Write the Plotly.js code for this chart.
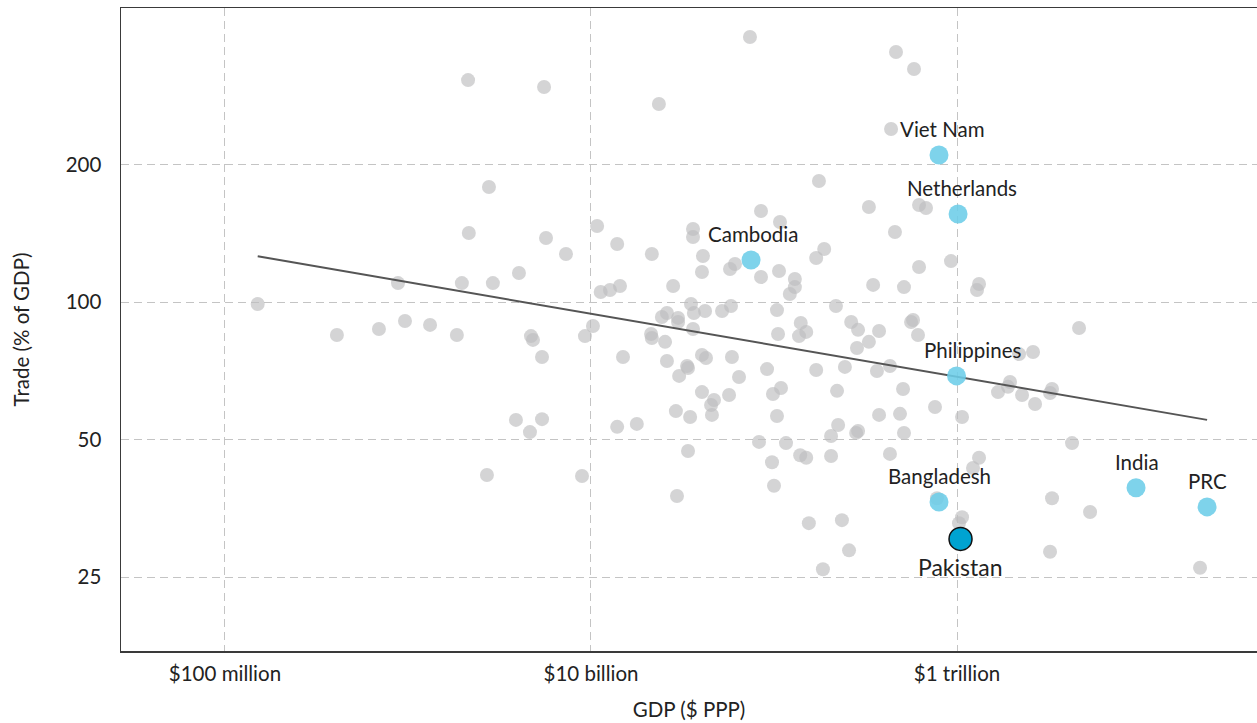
<!DOCTYPE html>
<html>
<head>
<meta charset="utf-8">
<script src="https://cdn.plot.ly/plotly-3.0.1.min.js"></script>
<style>html,body{margin:0;padding:0;background:#fff;}#chart{width:1257px;height:723px;}</style>
</head>
<body>
<div id="chart"></div>
<script>
// GDP in billions of $ (PPP), trade in % of GDP
const grayGdp = [0.151,0.409,0.694,0.963,1.32,1.85,0.882,1.97,2.91,4.04,2.15,2.77,2.13,5.54,4.70,4.82,5.40,3.89,4.64,5.40,2.70,5.68,7.30,10.8,13.9,21.5,23.5,73.9,464,582,436,176,330,620,677,84.9,107.8,36.1,36.1,40.9,61.2,57.5,106.5,40.4,84.9,458,188,170,927,620,130,130,122,348,513,11.3,12.7,14.4,28.1,218,35.2,36.5,42.0,52.0,58.2,103.8,24.4,26.0,29.9,29.9,10.25,36.1,140,264,288,561,575,612,375,1319,1286,4642,9.27,21.3,21.5,25.4,150,137,105.2,330,284,14.96,26.0,40.4,42.5,58.9,33.5,33.9,30.3,64.4,91.6,170,244,365,430,40.4,47.0,45.3,56.8,45.8,29.1,34.8,13.9,17.8,98.7,109.2,221,507,758,103.8,375,488,224,205,288,281,513,82.8,116.3,139,150,205,97.5,33.9,430,8.93,100,29.5,155,235,257,185,777,2182,2602,1675,1948,1899,2266,2669,3304,3223,1065,4250,1319,1223,3304,5332,1065,1025,3223,21270];
const grayTrade = [99.0,84.7,87.3,90.9,89.1,84.7,110.0,110.0,110.0,115.7,141.6,178.5,306,295.5,84.2,82.6,75.8,55.2,51.9,55.4,41.8,138.1,127.4,146.7,134.0,127.4,271.3,380.3,352.6,323.6,239.2,184.0,161.4,163.1,160.6,158.2,149.7,144.5,138.8,126.1,121.1,118.1,116.9,116.3,113.4,142.3,130.6,124.8,122.9,119.3,112.3,107.8,104.1,109.0,107.8,105.2,106.2,108.4,108.4,98.0,99.0,94.6,95.6,95.6,98.0,96.0,92.7,94.6,92.3,90.4,88.6,87.3,90.0,90.4,86.9,90.4,91.3,84.7,86.4,109.5,106.2,87.7,84.2,85.1,83.4,81.8,86.0,84.2,85.1,81.8,79.3,75.8,74.3,76.6,75.4,75.8,72.4,71.7,68.9,68.5,71.3,71.0,72.1,70.6,72.4,63.5,61.0,59.5,62.6,56.6,57.7,56.0,53.3,54.1,62.9,64.8,63.9,64.5,58.9,56.3,56.6,56.9,53.8,50.9,52.2,51.7,51.7,49.4,49.1,46.2,45.6,46.0,44.6,47.2,46.5,41.6,39.6,37.6,32.8,33.3,28.6,26.0,37.2,76.9,77.7,63.5,66.8,65.2,62.6,59.8,64.5,63.2,56.0,49.1,45.6,43.3,37.2,34.7,33.8,32.8,28.4,26.2];

const hlNames = ["Viet Nam","Netherlands","Cambodia","Philippines","Bangladesh","India","PRC"];
const hlGdp   = [797, 1013, 74.9, 994, 797, 9508, 23240];
const hlTrade = [209.8, 155.8, 123.6, 68.9, 36.5, 39.2, 35.6];

const focusName  = "Pakistan";
const focusGdp   = [1045];
const focusTrade = [30.3];

const trendGdp   = [0.151, 23240];
const trendTrade = [125.9, 55.2];

const xTickVals = [0.1, 10, 1000];
const xTickText = ["$100 million", "$10 billion", "$1 trillion"];
const yTickVals = [25, 50, 100, 200];
const yTickText = ["25", "50", "100", "200"];

const labelShiftX = [3, 4, 2, 16, 0, 1, 0];

const font = "Lato, 'Open Sans', sans-serif";

const traces = [
  {x: grayGdp, y: grayTrade, type: 'scatter', mode: 'markers',
   marker: {size: 14, color: 'rgba(190,190,192,0.66)', line: {width: 0}}, hoverinfo: 'skip'},
  {x: trendGdp, y: trendTrade, type: 'scatter', mode: 'lines',
   line: {color: '#555555', width: 2}, hoverinfo: 'skip'},
  {x: hlGdp, y: hlTrade, type: 'scatter', mode: 'markers',
   marker: {size: 19, color: 'rgba(108,205,232,0.88)', line: {width: 0}}, hoverinfo: 'skip'},
  {x: focusGdp, y: focusTrade, type: 'scatter', mode: 'markers',
   marker: {size: 23, color: '#00a3d1', line: {width: 1.5, color: '#111'}}, hoverinfo: 'skip'}
];

const annotations = hlNames.map((n, i) => ({
  x: Math.log10(hlGdp[i]), y: Math.log10(hlTrade[i]), xref: 'x', yref: 'y',
  text: n, showarrow: false, yshift: 26, xshift: labelShiftX[i],
  font: {family: font, size: 20.5, color: '#222'}
}));
annotations.push({
  x: Math.log10(focusGdp[0]), y: Math.log10(focusTrade[0]), xref: 'x', yref: 'y',
  text: focusName, showarrow: false, yshift: -28,
  font: {family: font, size: 23, color: '#222'}
});

const layout = {
  width: 1257, height: 723,
  margin: {l: 121, r: 0, t: 8, b: 72},
  paper_bgcolor: '#fff', plot_bgcolor: '#fff',
  showlegend: false,
  font: {family: font, size: 20.5, color: '#222'},
  xaxis: {
    type: 'log', range: [-1.568, 4.639],
    tickvals: xTickVals, ticktext: xTickText,
    showgrid: true, gridcolor: '#c4c4c4', gridwidth: 1, griddash: '8px,5px',
    zeroline: false, showline: true, linecolor: '#3a3a3a', linewidth: 1.5, mirror: true,
    ticks: 'outside', ticklen: 4, tickcolor: 'rgba(0,0,0,0)',
    tickfont: {family: font, size: 20.5, color: '#222'},
    title: {text: 'GDP ($ PPP)', font: {family: font, size: 20.5, color: '#222'}, standoff: 18}
  },
  yaxis: {
    type: 'log', range: [1.236, 2.6436],
    tickvals: yTickVals, ticktext: yTickText,
    showgrid: true, gridcolor: '#c4c4c4', gridwidth: 1, griddash: '8px,5px',
    zeroline: false, showline: true, linecolor: '#3a3a3a', linewidth: 1.5,
    ticks: 'outside', ticklen: 14, tickcolor: 'rgba(0,0,0,0)',
    tickfont: {family: font, size: 20.5, color: '#222'},
    title: {text: 'Trade (% of GDP)', font: {family: font, size: 20.5, color: '#222'}, standoff: 30}
  },
  annotations: annotations
};

Plotly.newPlot('chart', traces, layout, {displayModeBar: false, staticPlot: true});
</script>
</body>
</html>
